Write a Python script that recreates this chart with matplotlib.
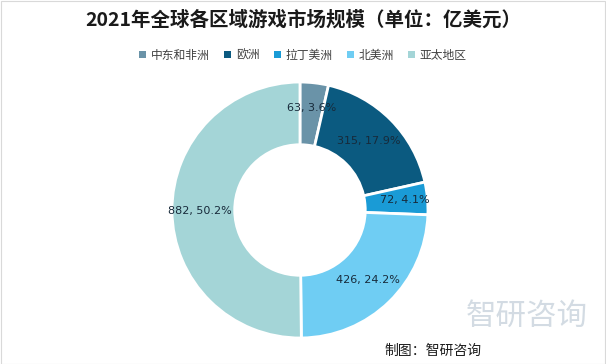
import matplotlib
matplotlib.use("Agg")
import matplotlib.pyplot as plt
from matplotlib.patches import Rectangle
import numpy as np

plt.rcParams['font.family'] = ['Noto Sans CJK SC', 'DejaVu Sans']

categories = ['中东和非洲', '欧洲', '拉丁美洲', '北美洲', '亚太地区']
values = [63, 315, 72, 426, 882]
percents = ['3.6%', '17.9%', '4.1%', '24.2%', '50.2%']
colors = ['#6a93a8', '#0b5a80', '#1a9bd6', '#6fcdf3', '#a4d5d7']

fig = plt.figure(figsize=(6.06, 3.64), dpi=100)
fig.patch.set_facecolor('white')
fig.add_artist(Rectangle((0.001, 0.001), 0.998, 0.997, transform=fig.transFigure,
                         fill=False, edgecolor='#d9d9d9', linewidth=0.8))

ax = fig.add_axes([0.2838, 0.0714, 0.4224, 0.7033])
wedges, _ = ax.pie(values, colors=colors, startangle=90, counterclock=False,
                   radius=1.0, wedgeprops=dict(width=0.49, edgecolor='white', linewidth=2.0))
ax.set_xlim(-1, 1)
ax.set_ylim(-1, 1)
ax.set_aspect('equal')

total = sum(values)
cum = 0
label_r = [0.80, 0.76, 0.82, 0.76, 0.78]
for i, (v, p) in enumerate(zip(values, percents)):
    mid = 90 - (cum + v / 2) / total * 360
    cum += v
    r = label_r[i]
    x = r * np.cos(np.radians(mid))
    y = r * np.sin(np.radians(mid))
    ax.text(x, y, f'{v}, {p}', ha='center', va='center', fontsize=8,
            color='#172a3a', family=['DejaVu Sans'])

fig.text(0.5, 0.945, '2021年全球各区域游戏市场规模（单位：亿美元）', ha='center', va='center',
         fontsize=14, fontweight='bold', color='#1a1a1a')

handles = [Rectangle((0, 0), 1, 1, facecolor=c) for c in colors]
fig.legend(handles, categories, loc='center', bbox_to_anchor=(0.5, 0.848), ncol=5,
           frameon=False, fontsize=8.5, handlelength=0.6, handleheight=0.6,
           handletextpad=0.4, columnspacing=1.2, labelcolor='#404040')

fig.text(0.87, 0.13, '智研咨询', ha='center', va='center', fontsize=22, color='#c8d3dc', alpha=0.8)
fig.text(0.635, 0.035, '制图：智研咨询', ha='left', va='center', fontsize=10, color='#1a1a1a')

fig.savefig('out.png', dpi=100, facecolor='white')
